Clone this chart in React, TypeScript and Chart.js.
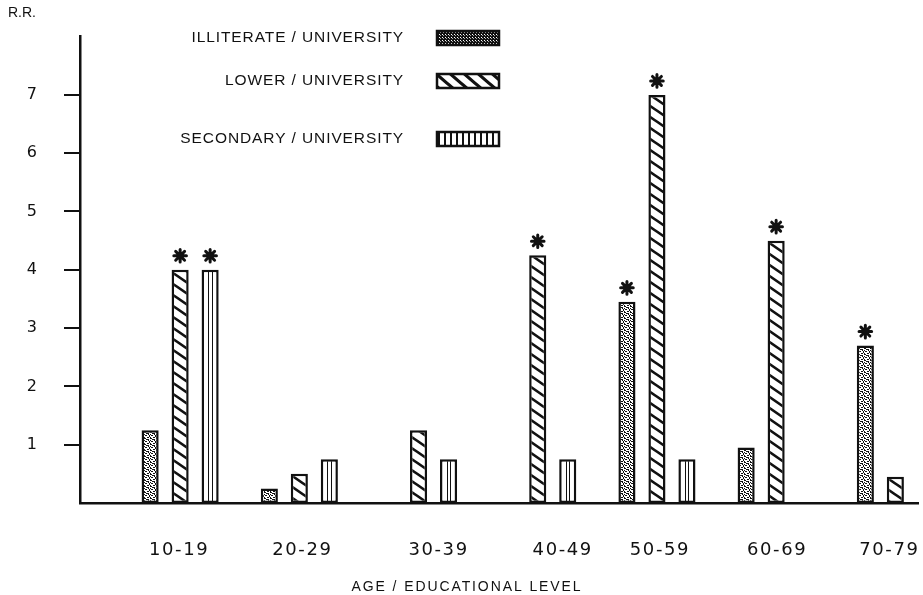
import React, { useEffect, useRef } from "react";
import { Chart, registerables } from "chart.js";

Chart.register(...registerables);

// ---- data ----
const categories = ["10-19", "20-29", "30-39", "40-49", "50-59", "60-69", "70-79"];
const seriesNames = ["ILLITERATE / UNIVERSITY", "LOWER / UNIVERSITY", "SECONDARY / UNIVERSITY"];
const illiterateRR: (number | null)[] = [1.25, 0.25, null, null, 3.45, 0.95, 2.7];
const lowerRR: (number | null)[] = [4.0, 0.5, 1.25, 4.25, 7.0, 4.5, 0.45];
const secondaryRR: (number | null)[] = [4.0, 0.75, 0.75, 0.75, 0.75, null, null];
// significant relative risks are flagged with an asterisk
const illiterateSig = [false, false, false, false, true, false, true];
const lowerSig = [true, false, false, true, true, true, false];
const secondarySig = [true, false, false, false, false, false, false];
const yTickValues = [1, 2, 3, 4, 5, 6, 7];

// ---- layout / style ----
const W = 923;
const H = 595;
const INK = "#111111";
const X_MIN = 0.16;
const X_MAX = 7.19;
const LABEL_NUDGE = [-1, 3, 20, 25, 3, 1, -6];

function makePattern(w: number, h: number, paint: (g: CanvasRenderingContext2D) => void) {
  const c = document.createElement("canvas");
  c.width = w;
  c.height = h;
  const g = c.getContext("2d")!;
  paint(g);
  return g.createPattern(c, "repeat")!;
}

function stipplePattern() {
  return makePattern(6, 6, (g) => {
    g.fillStyle = "#ffffff";
    g.fillRect(0, 0, 6, 6);
    g.fillStyle = INK;
    const dots = [
      [0, 0], [1, 0], [3, 1], [4, 1], [4, 2], [1, 3], [2, 3], [5, 4],
      [0, 5], [3, 5], [4, 5], [2, 1], [0, 2], [5, 3],
    ];
    dots.forEach(([x, y]) => g.fillRect(x, y, 1, 1));
  });
}

function denseStipplePattern() {
  return makePattern(3, 3, (g) => {
    g.fillStyle = INK;
    g.fillRect(0, 0, 3, 3);
    g.fillStyle = "#ffffff";
    g.fillRect(1, 1, 1, 1);
    g.fillRect(2, 2, 0.8, 0.8);
  });
}

function hatchPattern(w: number, h: number, lw: number) {
  return makePattern(w, h, (g) => {
    g.fillStyle = "#ffffff";
    g.fillRect(0, 0, w, h);
    g.strokeStyle = INK;
    g.lineWidth = lw;
    g.beginPath();
    for (let k = -1; k <= 1; k++) {
      g.moveTo(-w, -h + k * h);
      g.lineTo(2 * w, 2 * h + k * h);
    }
    g.stroke();
  });
}

function verticalRulePattern() {
  return makePattern(6, 4, (g) => {
    g.fillStyle = "#ffffff";
    g.fillRect(0, 0, 6, 4);
    g.fillStyle = INK;
    g.fillRect(0, 0, 2, 4);
  });
}

function drawAsterisk(ctx: CanvasRenderingContext2D, cx: number, cy: number, r: number) {
  ctx.save();
  ctx.strokeStyle = INK;
  ctx.fillStyle = INK;
  ctx.lineWidth = 3;
  ctx.lineCap = "round";
  ctx.beginPath();
  for (let k = 0; k < 4; k++) {
    const a = (k * Math.PI) / 4;
    ctx.moveTo(cx + r * Math.cos(a), cy + r * Math.sin(a));
    ctx.lineTo(cx - r * Math.cos(a), cy - r * Math.sin(a));
  }
  ctx.stroke();
  ctx.beginPath();
  ctx.arc(cx, cy, 3, 0, Math.PI * 2);
  ctx.fill();
  ctx.restore();
}

function spacedText(
  ctx: CanvasRenderingContext2D,
  text: string,
  x: number,
  y: number,
  font: string,
  align: CanvasTextAlign,
  spacing: number
) {
  ctx.save();
  ctx.font = font;
  ctx.fillStyle = INK;
  ctx.textAlign = align;
  ctx.textBaseline = "middle";
  (ctx as any).letterSpacing = spacing + "px";
  ctx.fillText(text, x, y);
  ctx.restore();
}

export default function App() {
  const canvasRef = useRef<HTMLCanvasElement | null>(null);

  useEffect(() => {
    const canvas = canvasRef.current;
    if (!canvas) return;

    const fills = [stipplePattern(), hatchPattern(16, 11, 2.6), "#ffffff"];
    const legendFills = [denseStipplePattern(), hatchPattern(14, 12, 3.2), verticalRulePattern()];
    const values = [illiterateRR, lowerRR, secondaryRR];
    const flags = [illiterateSig, lowerSig, secondarySig];

    const decorations = {
      id: "decorations",
      afterDatasetsDraw(chart: Chart) {
        const ctx = chart.ctx;
        // twin inner rules of the secondary bars
        const secMeta = chart.getDatasetMeta(2);
        secMeta.data.forEach((el: any, i: number) => {
          if (secondaryRR[i] == null) return;
          const { x, y, base } = el.getProps(["x", "y", "base"], true);
          ctx.save();
          ctx.strokeStyle = INK;
          ctx.lineWidth = 1;
          [-2, 1.5].forEach((dx) => {
            ctx.beginPath();
            ctx.moveTo(Math.round(x + dx) + 0.5, y + 2);
            ctx.lineTo(Math.round(x + dx) + 0.5, base);
            ctx.stroke();
          });
          ctx.restore();
        });
        // significance asterisks
        flags.forEach((row, d) => {
          const meta = chart.getDatasetMeta(d);
          row.forEach((on, i) => {
            if (!on || values[d][i] == null) return;
            const el: any = meta.data[i];
            const { x, y } = el.getProps(["x", "y"], true);
            drawAsterisk(ctx, x, y - 14, 6.3);
          });
        });
      },
      afterDraw(chart: Chart) {
        const ctx = chart.ctx;
        const xs = chart.scales.x;
        // category labels
        categories.forEach((c, i) => {
          const px = xs.getPixelForValue(i + 1) + LABEL_NUDGE[i];
          spacedText(ctx, c, px, 550, '18px "DejaVu Sans"', "center", 1.6);
        });
        // axis titles
        spacedText(ctx, "AGE / EDUCATIONAL LEVEL", 467, 587, '14px "Liberation Sans"', "center", 1.9);
        spacedText(ctx, "R.R.", 8, 13, '14px "Liberation Sans"', "left", 0);
        // legend
        const rows = [38, 81, 139];
        seriesNames.forEach((name, k) => {
          spacedText(ctx, name, 404, rows[k], '15.5px "Liberation Sans"', "right", 0.9);
          ctx.save();
          ctx.fillStyle = legendFills[k] as any;
          ctx.fillRect(437, rows[k] - 7, 62, 14);
          ctx.strokeStyle = INK;
          ctx.lineWidth = 2.5;
          ctx.strokeRect(437, rows[k] - 7, 62, 14);
          ctx.restore();
        });
      },
    };

    const chart = new Chart(canvas, {
      type: "bar",
      data: {
        datasets: values.map((vals, d) => ({
          label: seriesNames[d],
          data: vals.map((v, i) => ({ x: i + 1, y: v })) as any,
          backgroundColor: fills[d] as any,
          borderColor: INK,
          borderWidth: 2.5,
          borderSkipped: false,
          categoryPercentage: 0.755,
          barPercentage: 0.57,
        })),
      },
      options: {
        responsive: false,
        animation: false,
        devicePixelRatio: 1,
        layout: { padding: { left: 0, right: 5, top: 30, bottom: 0 } },
        plugins: { legend: { display: false }, tooltip: { enabled: false } },
        scales: {
          x: {
            type: "linear",
            min: X_MIN,
            max: X_MAX,
            offset: false,
            grid: { display: false, offset: false },
            border: { display: true, color: INK, width: 2.5 },
            ticks: { display: false },
            afterBuildTicks: (s: any) => {
              s.ticks = categories.map((_, i) => ({ value: i + 1 }));
            },
            afterFit: (s: any) => {
              s.height = 92;
            },
          },
          y: {
            type: "linear",
            min: 0,
            max: 8,
            grid: {
              display: true,
              drawOnChartArea: false,
              drawTicks: true,
              tickLength: 16,
              color: INK,
              lineWidth: 2,
            },
            border: { display: true, color: INK, width: 2.5 },
            ticks: {
              color: INK,
              font: { family: "DejaVu Sans", size: 16 },
              padding: 27,
            },
            afterBuildTicks: (s: any) => {
              s.ticks = yTickValues.map((v) => ({ value: v }));
            },
            afterFit: (s: any) => {
              s.width = 80;
            },
          },
        },
      },
      plugins: [decorations],
    });

    return () => chart.destroy();
  }, []);

  return (
    <div style={{ position: "fixed", left: 0, top: 0, width: W, height: H, background: "#ffffff" }}>
      <canvas ref={canvasRef} width={W} height={H} style={{ display: "block" }} />
    </div>
  );
}
